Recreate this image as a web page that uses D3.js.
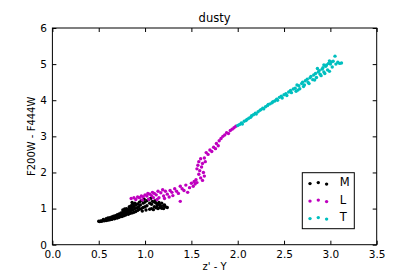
<!DOCTYPE html>
<html>
<head>
<meta charset="utf-8">
<script src="https://cdn.jsdelivr.net/npm/d3@7"></script>
<style>
    body { margin: 0; background: #fff; }
    text { font-family: "DejaVu Sans", sans-serif; fill: #000; }
</style>
</head>
<body>
<div id="chart"></div>
<script>
// z' - Y vs F200W - F444W, dusty models
const m_points = [
    [0.50,0.65],[0.51,0.64],[0.52,0.66],[0.53,0.65],[0.54,0.66],[0.55,0.67],[0.56,0.66],[0.57,0.68],
    [0.58,0.67],[0.59,0.69],[0.60,0.68],[0.61,0.70],[0.62,0.69],[0.63,0.71],[0.64,0.70],[0.65,0.72],
    [0.66,0.73],[0.67,0.72],[0.68,0.74],[0.69,0.75],[0.70,0.74],[0.71,0.77],[0.72,0.76],[0.73,0.78],
    [0.74,0.79],[0.75,0.78],[0.76,0.81],[0.77,0.80],[0.78,0.83],[0.79,0.82],[0.80,0.85],[0.82,0.84],
    [0.84,0.87],[0.86,0.88],[0.88,0.90],[0.90,0.92],
    [0.55,0.70],[0.58,0.72],[0.60,0.74],[0.62,0.75],[0.64,0.77],[0.66,0.79],[0.68,0.80],[0.70,0.83],
    [0.72,0.85],[0.74,0.88],[0.76,0.90],[0.78,0.92],[0.80,0.95],[0.82,0.97],[0.84,1.00],[0.86,1.03],
    [0.88,1.06],[0.90,1.10],[0.92,1.13],[0.94,1.18],[0.96,1.22],
    [0.65,0.75],[0.67,0.77],[0.69,0.78],[0.71,0.80],[0.73,0.82],[0.75,0.84],[0.77,0.86],[0.79,0.88],
    [0.81,0.90],[0.83,0.92],[0.85,0.95],[0.87,0.97],[0.89,1.00],[0.91,1.02],[0.93,1.05],
    [0.76,0.96],[0.78,0.99],[0.80,1.00],[0.83,1.05],[0.85,1.08],[0.87,1.12],[0.89,1.15],[0.86,1.17],
    [0.92,0.95],[0.94,0.98],[0.96,1.00],[0.98,1.03],[1.00,1.05],[1.02,1.08],[0.95,1.10],[0.98,1.15],
    [1.00,1.18],[1.02,1.22],[1.04,1.25],[0.99,1.26],[1.05,1.15],[1.07,1.12],[1.08,1.20],[1.10,1.18],
    [1.12,1.15],[1.14,1.12],[1.16,1.10],[1.18,1.15],[1.20,1.08],[1.22,1.05],[1.24,1.03],[1.10,1.05],
    [1.12,1.02],[1.14,1.00],[1.16,1.03],[1.18,1.01],[1.20,1.00],[1.05,0.98],[1.07,1.00],[1.09,0.97],
    [1.01,0.96],[0.97,0.93],[1.13,1.08],[1.17,1.06],[1.21,1.10],[1.06,1.28],[1.11,1.22],[1.15,1.17]
];
const l_points = [
    [0.85,1.28],[0.88,1.30],[0.90,1.25],[0.92,1.32],[0.94,1.30],[0.96,1.35],[0.98,1.33],[1.00,1.38],
    [1.02,1.35],[1.03,1.42],[1.05,1.40],[1.07,1.36],[1.08,1.45],[1.10,1.42],[1.12,1.38],[1.14,1.48],
    [1.15,1.30],[1.17,1.44],[1.19,1.52],[1.20,1.35],[1.22,1.48],[1.24,1.40],[1.26,1.32],[1.27,1.50],
    [1.29,1.45],[1.30,1.36],[1.32,1.55],[1.34,1.48],[1.36,1.42],[1.38,1.20],[1.38,1.62],[1.40,1.55],
    [1.42,1.50],[1.44,1.65],[1.46,1.45],[1.48,1.58],[1.50,1.70],[1.52,1.62],[1.53,1.75],[1.54,1.68],
    [1.55,1.80],[1.56,1.72],[1.56,2.10],[1.57,2.20],[1.58,1.95],[1.58,2.30],[1.59,2.05],[1.60,1.85],
    [1.60,2.38],[1.61,2.15],[1.62,1.78],[1.62,2.25],[1.63,2.00],[1.64,1.90],[1.64,2.40],[1.65,2.30],
    [1.66,2.55],[1.68,2.50],[1.70,2.62],[1.72,2.58],[1.74,2.70],[1.76,2.66],[1.77,2.80],[1.79,2.74],
    [1.80,2.88],[1.82,2.94],[1.84,3.00],[1.86,3.04],[1.88,3.10],[1.90,3.08],[1.92,3.16],[1.94,3.20],
    [1.96,3.24],[1.98,3.28],
    [0.97,1.24],[1.04,1.26],[1.09,1.30],[1.13,1.25],[1.21,1.28]
];
const t_points = [
    [2.00,3.30],[2.02,3.33],[2.04,3.37],[2.05,3.34],[2.07,3.42],[2.09,3.44],[2.10,3.47],[2.12,3.50],
    [2.14,3.53],[2.15,3.57],[2.17,3.60],[2.19,3.64],[2.20,3.62],[2.22,3.68],[2.24,3.72],[2.25,3.74],
    [2.27,3.78],[2.28,3.76],[2.30,3.82],[2.32,3.85],[2.33,3.88],[2.35,3.90],[2.37,3.93],[2.38,3.96],
    [2.40,3.98],[2.42,4.03],[2.43,4.00],[2.45,4.08],[2.47,4.11],[2.48,4.06],[2.50,4.15],[2.52,4.18],
    [2.53,4.13],[2.55,4.23],[2.57,4.27],[2.58,4.21],[2.60,4.31],[2.62,4.33],[2.63,4.25],[2.64,4.42],
    [2.66,4.40],[2.67,4.32],[2.69,4.46],[2.70,4.50],[2.72,4.42],[2.73,4.54],[2.75,4.58],[2.76,4.49],
    [2.78,4.62],[2.79,4.66],[2.81,4.57],[2.82,4.70],[2.84,4.74],[2.85,4.63],[2.87,4.78],[2.88,4.82],
    [2.89,4.72],[2.91,4.86],[2.92,4.90],[2.93,4.78],[2.95,4.94],[2.96,4.98],[2.97,4.84],[2.98,5.02],
    [3.00,5.00],[3.01,5.06],[3.03,5.08],[3.02,4.92],[3.05,5.22],[3.06,5.00],[3.08,5.05],[3.10,5.02],
    [3.12,5.03],
    [2.65,4.28],[2.71,4.38],[2.77,4.46],[2.83,4.56],[2.90,4.68],[2.94,4.74],[2.99,4.80],
    [2.86,4.88],[2.93,4.98],[2.99,5.09]
];
const series_names = ["M", "L", "T"];
const series_colors = ["#000000", "#bf00bf", "#00bfbf"];
const x_ticks = [0, 0.5, 1, 1.5, 2, 2.5, 3, 3.5];
const y_ticks = [0, 1, 2, 3, 4, 5, 6];

const all_series = [m_points, l_points, t_points];

const margin = {top: 28, right: 42.3, bottom: 35.3, left: 52.4},
    width = 419 - margin.left - margin.right,
    height = 280 - margin.top - margin.bottom;

const root = d3.select("#chart")
    .append("svg")
    .attr("width", 419)
    .attr("height", 280);

const svg = root.append("g")
    .attr("transform", `translate(${margin.left}, ${margin.top})`);

const x = d3.scaleLinear().domain([0, 3.5]).range([0, width]);
const y = d3.scaleLinear().domain([0, 6]).range([height, 0]);

// points
all_series.forEach(function (pts, i) {
    svg.append("g")
        .selectAll("circle")
        .data(pts)
        .join("circle")
        .attr("cx", d => x(d[0]))
        .attr("cy", d => y(d[1]))
        .attr("r", 1.7)
        .style("fill", series_colors[i]);
});

// axes, ticks pointing inward on all four sides
function style_axis(g) {
    g.select(".domain").remove();
    g.selectAll(".tick line").attr("stroke", "#000").attr("stroke-width", 1);
    g.selectAll(".tick text").style("font-size", "10.5px").style("font-family", "DejaVu Sans");
}

svg.append("g")
    .attr("transform", `translate(0, ${height})`)
    .call(d3.axisBottom(x).tickValues(x_ticks).tickFormat(d3.format(".1f")).tickSize(-4).tickPadding(5.5))
    .call(style_axis);
svg.append("g")
    .call(d3.axisTop(x).tickValues(x_ticks).tickFormat("").tickSize(-4))
    .call(style_axis);
svg.append("g")
    .call(d3.axisLeft(y).tickValues(y_ticks).tickFormat(d3.format("d")).tickSize(-4).tickPadding(5.5))
    .call(style_axis);
svg.append("g")
    .attr("transform", `translate(${width}, 0)`)
    .call(d3.axisRight(y).tickValues(y_ticks).tickFormat("").tickSize(-4))
    .call(style_axis);

svg.append("rect")
    .attr("width", width)
    .attr("height", height)
    .attr("fill", "none")
    .attr("stroke", "#000")
    .attr("stroke-width", 1);

// labels
svg.append("text")
    .attr("x", width / 2)
    .attr("y", -6)
    .attr("text-anchor", "middle")
    .style("font-size", "11.5px")
    .text("dusty");

svg.append("text")
    .attr("x", width / 2)
    .attr("y", height + 25.5)
    .attr("text-anchor", "middle")
    .style("font-size", "10px")
    .text("z' - Y");

svg.append("text")
    .attr("transform", `translate(${-17.5}, ${height / 2}) rotate(-90)`)
    .attr("text-anchor", "middle")
    .style("font-size", "10px")
    .text("F200W - F444W");

// legend, lower right
const legend = svg.append("g")
    .attr("transform", `translate(${302.3 - margin.left}, ${172.7 - margin.top})`);
legend.append("rect")
    .attr("width", 52)
    .attr("height", 56)
    .attr("fill", "#fff")
    .attr("stroke", "#000")
    .attr("stroke-width", 1);

const dot_offsets = [0.375, 0.5, 0.3125];
series_names.forEach(function (name, i) {
    const row_y = 9.6 + i * 17.5;
    dot_offsets.forEach(function (off, j) {
        legend.append("circle")
            .attr("cx", 7.7 + j * 8.3)
            .attr("cy", row_y + (0.5 - off) * 8 + 0.3)
            .attr("r", 1.7)
            .style("fill", series_colors[i]);
    });
    legend.append("text")
        .attr("x", 37.5)
        .attr("y", row_y)
        .attr("dominant-baseline", "central")
        .style("font-size", "11.5px")
        .text(name);
});
</script>
</body>
</html>
